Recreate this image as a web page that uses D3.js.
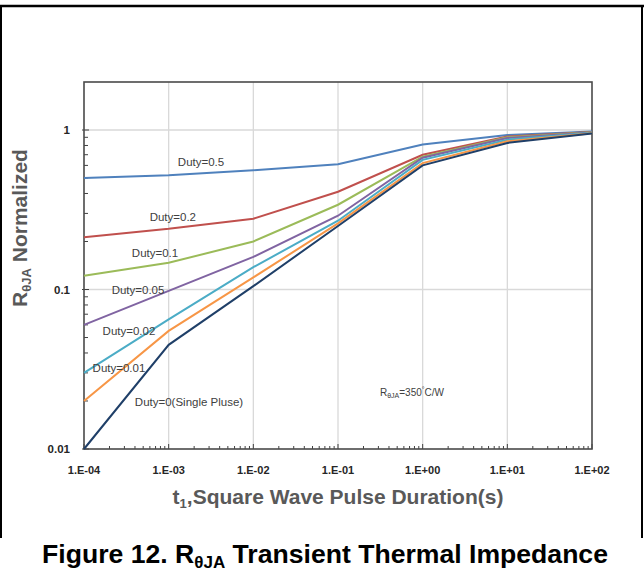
<!DOCTYPE html>
<html>
<head>
<meta charset="utf-8">
<script src="https://cdn.jsdelivr.net/npm/d3@7"></script>
<style>
  body { margin: 0; background: #fff; }
  svg { display: block; font-family: "Liberation Sans", Arial, sans-serif; }
</style>
</head>
<body>
<svg id="chart"></svg>
<script>
const width = 644;
const height = 573;
const margin = { top: 82, right: 52, bottom: 124, left: 84 };

// pulse durations (s) and the tick labels under them
const durations = [1e-4, 1e-3, 1e-2, 1e-1, 1, 10, 100];
const xTickLabels = ['1.E-04', '1.E-03', '1.E-02', '1.E-01', '1.E+00', '1.E+01', '1.E+02'];
const yTicks = [1, 0.1, 0.01];
const yTickLabels = ['1', '0.1', '0.01'];

// normalized R_thetaJA
const duty05 = [0.50, 0.52, 0.56, 0.61, 0.81, 0.93, 0.98];
const duty02 = [0.213, 0.24, 0.278, 0.41, 0.70, 0.91, 0.97];
const duty01 = [0.122, 0.147, 0.20, 0.34, 0.68, 0.90, 0.968];
const duty005 = [0.060, 0.098, 0.16, 0.29, 0.67, 0.89, 0.965];
const duty002 = [0.030, 0.065, 0.138, 0.27, 0.65, 0.87, 0.96];
const duty001 = [0.020, 0.055, 0.119, 0.26, 0.62, 0.85, 0.955];
const singlePulse = [0.010, 0.045, 0.105, 0.25, 0.60, 0.83, 0.95];

const seriesNames = ['Duty=0.5', 'Duty=0.2', 'Duty=0.1', 'Duty=0.05', 'Duty=0.02', 'Duty=0.01', 'Duty=0(Single Pluse)'];
const seriesValues = [duty05, duty02, duty01, duty005, duty002, duty001, singlePulse];
const colors = ['#4f81bd', '#c0504d', '#9bbb59', '#8064a2', '#4bacc6', '#f79646', '#1f3f68'];

// where each curve label sits, in chart units (duration, R)
const labelX = [0.00241, 0.00112, 0.00069, 0.000435, 0.00034, 0.000259, 0.00174];
const labelY = [0.631, 0.286, 0.170, 0.100, 0.0546, 0.0321, 0.0197];

const svg = d3.select('#chart')
    .attr('width', width)
    .attr('height', height);

svg.append('rect').attr('width', width).attr('height', height).attr('fill', '#fff');

// page frame around the figure
svg.append('line')
    .attr('x1', 0).attr('x2', width).attr('y1', 6).attr('y2', 6)
    .attr('stroke', '#000').attr('stroke-width', 2.5);
svg.append('line')
    .attr('x1', 1).attr('x2', 1).attr('y1', 6).attr('y2', 538)
    .attr('stroke', '#000').attr('stroke-width', 2);
svg.append('line')
    .attr('x1', 642).attr('x2', 642).attr('y1', 6).attr('y2', 538)
    .attr('stroke', '#000').attr('stroke-width', 2);

const xScale = d3.scaleLog()
    .domain([1e-4, 100])
    .range([margin.left, width - margin.right]);

const yScale = d3.scaleLog()
    .domain([0.01, 2])
    .range([height - margin.bottom - 0, margin.top]);

const plotBottom = yScale(0.01);
const plotTop = yScale(2);
const plotLeft = xScale(1e-4);
const plotRight = xScale(100);

// gridlines
svg.append('g')
    .selectAll('line')
    .data(durations.slice(1, -1))
    .enter()
    .append('line')
    .attr('x1', d => xScale(d)).attr('x2', d => xScale(d))
    .attr('y1', plotTop).attr('y2', plotBottom)
    .attr('stroke', '#d9d9d9').attr('stroke-width', 1.3);

svg.append('g')
    .selectAll('line')
    .data(yTicks.slice(0, 2))
    .enter()
    .append('line')
    .attr('x1', plotLeft).attr('x2', plotRight)
    .attr('y1', d => yScale(d)).attr('y2', d => yScale(d))
    .attr('stroke', '#d9d9d9').attr('stroke-width', 1.3);

// minor ticks (inside) on both axes
const xMinor = [];
durations.slice(0, -1).forEach(d => { for (let k = 2; k <= 9; k++) xMinor.push(d * k); });
const yMinor = [];
[0.01, 0.1, 1].forEach(d => { for (let k = 2; k <= 9; k++) if (d * k < 2) yMinor.push(d * k); });

svg.append('g')
    .selectAll('line')
    .data(xMinor)
    .enter()
    .append('line')
    .attr('x1', d => xScale(d)).attr('x2', d => xScale(d))
    .attr('y1', plotBottom).attr('y2', plotBottom - 3)
    .attr('stroke', '#404040').attr('stroke-width', 1);

svg.append('g')
    .selectAll('line')
    .data(durations)
    .enter()
    .append('line')
    .attr('x1', d => xScale(d)).attr('x2', d => xScale(d))
    .attr('y1', plotBottom).attr('y2', plotBottom - 5)
    .attr('stroke', '#404040').attr('stroke-width', 1);

svg.append('g')
    .selectAll('line')
    .data(yMinor)
    .enter()
    .append('line')
    .attr('x1', plotLeft).attr('x2', plotLeft + 4)
    .attr('y1', d => yScale(d)).attr('y2', d => yScale(d))
    .attr('stroke', '#404040').attr('stroke-width', 1);

svg.append('g')
    .selectAll('line')
    .data(yTicks)
    .enter()
    .append('line')
    .attr('x1', plotLeft - 2).attr('x2', plotLeft + 5)
    .attr('y1', d => yScale(d)).attr('y2', d => yScale(d))
    .attr('stroke', '#404040').attr('stroke-width', 1);

// plot frame
svg.append('rect')
    .attr('x', plotLeft).attr('y', plotTop)
    .attr('width', plotRight - plotLeft).attr('height', plotBottom - plotTop)
    .attr('fill', 'none').attr('stroke', '#4a4a4a').attr('stroke-width', 1.6);

// curves
const line = d3.line()
    .x((d, i) => xScale(durations[i]))
    .y(d => yScale(d));

svg.append('g')
    .selectAll('path')
    .data(seriesValues)
    .enter()
    .append('path')
    .attr('d', d => line(d))
    .attr('fill', 'none')
    .attr('stroke', (d, i) => colors[i])
    .attr('stroke-width', 2);

// curve labels
svg.append('g')
    .selectAll('text')
    .data(seriesNames)
    .enter()
    .append('text')
    .attr('x', (d, i) => xScale(labelX[i]))
    .attr('y', (d, i) => yScale(labelY[i]))
    .attr('dy', '0.35em')
    .attr('text-anchor', 'middle')
    .attr('font-size', 11.5)
    .attr('fill', '#404040')
    .text(d => d);

// R_thetaJA note
const note = svg.append('text')
    .attr('x', xScale(0.748))
    .attr('y', yScale(0.0227))
    .attr('dy', '0.35em')
    .attr('text-anchor', 'middle')
    .attr('font-size', 10)
    .attr('fill', '#404040');
note.append('tspan').text('R');
note.append('tspan').attr('font-size', 7).attr('dy', 2).text('θJA');
note.append('tspan').attr('dy', -2).text('=350');
note.append('tspan').attr('font-size', 7).attr('dy', -4).text('°');
note.append('tspan').attr('dy', 4).text('C/W');

// tick labels
svg.append('g')
    .selectAll('text')
    .data(xTickLabels)
    .enter()
    .append('text')
    .attr('x', (d, i) => xScale(durations[i]))
    .attr('y', plotBottom + 25)
    .attr('text-anchor', 'middle')
    .attr('font-size', 11)
    .attr('font-weight', 'bold')
    .attr('fill', '#262626')
    .text(d => d);

svg.append('g')
    .selectAll('text')
    .data(yTickLabels)
    .enter()
    .append('text')
    .attr('x', plotLeft - 14)
    .attr('y', (d, i) => yScale(yTicks[i]))
    .attr('dy', '0.35em')
    .attr('text-anchor', 'end')
    .attr('font-size', 11.5)
    .attr('font-weight', 'bold')
    .attr('fill', '#262626')
    .text(d => d);

// axis titles
const xTitle = svg.append('text')
    .attr('x', (plotLeft + plotRight) / 2)
    .attr('y', 504)
    .attr('text-anchor', 'middle')
    .attr('font-size', 21)
    .attr('font-weight', 'bold')
    .attr('fill', '#595959');
xTitle.append('tspan').text('t');
xTitle.append('tspan').attr('font-size', 13).attr('dy', 4).text('1');
xTitle.append('tspan').attr('dy', -4).text(',Square Wave Pulse Duration(s)');

const yTitle = svg.append('text')
    .attr('transform', 'translate(27,228) rotate(-90)')
    .attr('text-anchor', 'middle')
    .attr('font-size', 21)
    .attr('font-weight', 'bold')
    .attr('fill', '#595959');
yTitle.append('tspan').text('R');
yTitle.append('tspan').attr('font-size', 13).attr('dy', 4).text('θJA');
yTitle.append('tspan').attr('dy', -4).text(' Normalized');

// figure caption
const caption = svg.append('text')
    .attr('x', 325)
    .attr('y', 563)
    .attr('text-anchor', 'middle')
    .attr('font-size', 26.6)
    .attr('font-weight', 'bold')
    .attr('fill', '#000');
caption.append('tspan').text('Figure 12. R');
caption.append('tspan').attr('font-size', 17).attr('dy', 5).text('θJA');
caption.append('tspan').attr('dy', -5).text(' Transient Thermal Impedance');
</script>
</body>
</html>
